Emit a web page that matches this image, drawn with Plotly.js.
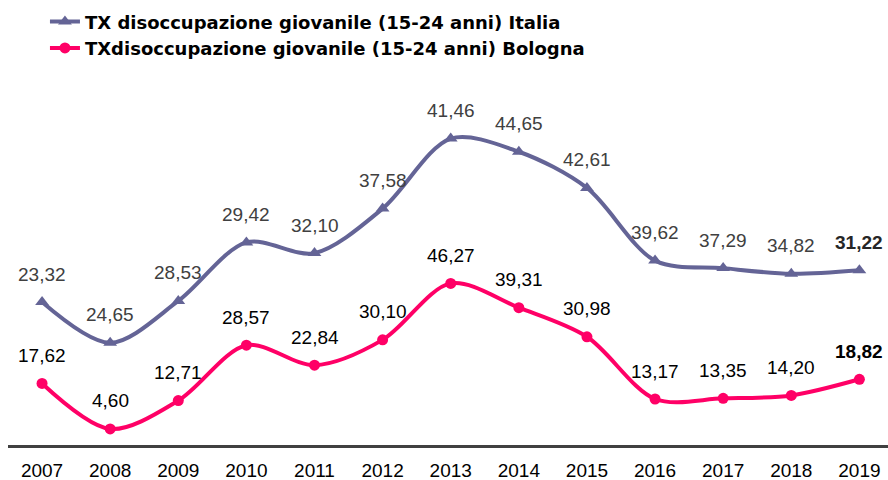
<!DOCTYPE html>
<html>
<head>
<meta charset="utf-8">
<script src="https://cdn.plot.ly/plotly-3.0.1.min.js"></script>
<style>html,body{margin:0;padding:0;background:#fff;}#chart{width:888px;height:480px;}</style>
</head>
<body>
<div id="chart"></div>
<script>
const years = ['2007','2008','2009','2010','2011','2012','2013','2014','2015','2016','2017','2018','2019'];
const italia = [23.32,24.65,28.53,29.42,32.10,37.58,41.46,44.65,42.61,39.62,37.29,34.82,31.22];
const bologna = [17.62,4.60,12.71,28.57,22.84,30.10,46.27,39.31,30.98,13.17,13.35,14.20,18.82];
const nameItalia = 'TX disoccupazione giovanile (15-24 anni) Italia';
const nameBologna = 'TXdisoccupazione giovanile (15-24 anni) Bologna';

const colItalia = '#646496';
const colBologna = '#FF0066';
const fmt = v => v.toFixed(2).replace('.', ',');

const traces = [
  {
    x: years, y: bologna, name: nameBologna, type: 'scatter', mode: 'lines+markers',
    stackgroup: 'one', fill: 'none',
    line: {color: colBologna, width: 4, shape: 'spline', smoothing: 0.9},
    marker: {symbol: 'circle', size: 11, color: colBologna}
  },
  {
    x: years, y: italia, name: nameItalia, type: 'scatter', mode: 'lines+markers',
    stackgroup: 'one', fill: 'none',
    line: {color: colItalia, width: 4, shape: 'spline', smoothing: 0.9},
    marker: {symbol: 'triangle-up', size: 12, color: colItalia}
  }
];

const annotations = [];
const last = years.length - 1;
years.forEach((yr, i) => {
  const tb = i === last ? '<b>' + fmt(bologna[i]) + '</b>' : fmt(bologna[i]);
  annotations.push({xref: 'x', yref: 'y', x: i, y: bologna[i], text: tb, showarrow: false, yshift: 28,
    font: {family: 'Liberation Sans, Arial, sans-serif', size: 19, color: '#000000'}});
  const ti = i === last ? '<b>' + fmt(italia[i]) + '</b>' : fmt(italia[i]);
  annotations.push({xref: 'x', yref: 'y', x: i, y: bologna[i] + italia[i], text: ti, showarrow: false, yshift: 28,
    font: {family: 'Liberation Sans, Arial, sans-serif', size: 19, color: i === last ? '#262626' : '#404040'}});
});

const layout = {
  width: 888, height: 480,
  margin: {l: 8, r: 0, t: 80, b: 35},
  paper_bgcolor: '#ffffff', plot_bgcolor: '#ffffff',
  showlegend: true,
  legend: {
    x: 0.042, y: 1.21, xanchor: 'left', yanchor: 'top',
    traceorder: 'reversed', tracegroupgap: 0,
    font: {family: 'DejaVu Sans, sans-serif', size: 18, color: '#000000', weight: 'bold'},
    bgcolor: 'rgba(0,0,0,0)'
  },
  xaxis: {
    type: 'category', range: [-0.5, 12.42],
    showline: true, linecolor: '#404040', linewidth: 3,
    showgrid: false, zeroline: false, ticks: '', ticklabelstandoff: 6,
    tickfont: {family: 'Liberation Sans, Arial, sans-serif', size: 19, color: '#000000'}
  },
  yaxis: {
    range: [0, 104.5], showgrid: false, zeroline: false, showline: false,
    showticklabels: false, ticks: ''
  },
  annotations: annotations
};

Plotly.newPlot('chart', traces, layout, {displayModeBar: false, staticPlot: true});
</script>
</body>
</html>
